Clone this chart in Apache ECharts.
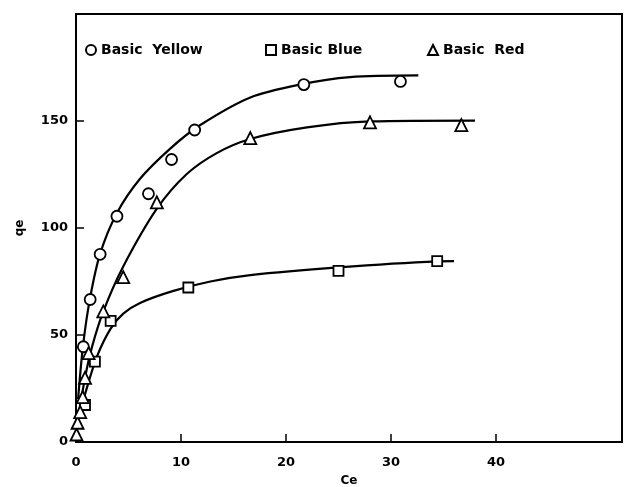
<!DOCTYPE html>
<html>
<head>
<meta charset="utf-8">
<script src="https://cdn.jsdelivr.net/npm/echarts@6/dist/echarts.min.js"></script>
<style>html,body{margin:0;padding:0;background:#fff}#c{width:626px;height:487px}</style>
</head>
<body>
<div id="c"></div>
<script>
// Measured points (Ce, qe)
var yellowPts = [[0.7,44.5],[1.35,66.6],[2.3,87.7],[3.9,105.5],[6.9,116],[9.1,132],[11.3,145.8],[21.7,167],[30.9,168.5]];
var bluePts = [[0.86,17.3],[1.8,37.6],[3.3,56.6],[10.7,72.2],[25,80],[34.4,84.5]];
var redPts = [[0.05,3.5],[0.15,9],[0.4,14],[0.64,21],[0.86,30],[1.2,41.5],[2.6,61],[4.5,77],[7.7,112],[16.6,142],[28,149.4],[36.7,148.1]];
// Fitted curves
var yellowCurve = [[0.2,20],[0.67,45],[1.33,67],[2.3,88],[3.9,107],[6.1,123],[8.95,137],[11.8,148],[16.6,161],[21.3,167],[26.1,170.5],[32.6,171.3]];
var blueCurve = [[0.2,10],[0.9,23],[2.0,40],[3.3,53],[4.5,60],[6.1,65],[9.2,70.5],[12.8,75],[16.6,78],[25,81.6],[34.4,84.4],[36,84.5]];
var redCurve = [[0.15,10],[0.9,31],[1.5,44],[2.6,61],[4.5,82],[7.7,109],[10.5,125],[13.4,135],[16.6,141.6],[22,147],[28,149.8],[38,150.2]];
var xTicks = [0,10,20,30,40];
var yTicks = [0,50,100,150];
var names = ['Basic  Yellow','Basic Blue','Basic  Red'];

var font = 'DejaVu Sans';
var chart = echarts.init(document.getElementById('c'));
function scat(name, data, sym){
  return {type:'scatter', name:name, data:data, symbol:sym, symbolSize: sym==='triangle'?12:(sym==='rect'?10:11),
    itemStyle:{color:'#fff', borderColor:'#000', borderWidth:1.8, opacity:1}, z:3};
}
function curve(data){
  return {type:'line', data:data, smooth:0.3, showSymbol:false, symbol:'none',
    lineStyle:{color:'#000', width:2.2}, z:2, silent:true};
}
function leg(name, left){
  return {data:[name], left:left, top:38, itemWidth:10, itemHeight:10, itemGap:5,
    textStyle:{fontFamily:font, fontWeight:'bold', fontSize:14, color:'#000'}, selectedMode:false};
}
chart.setOption({
  animation:false,
  backgroundColor:'#fff',
  grid:{left:76, top:14, right:4, bottom:45, show:true, borderColor:'#000', borderWidth:2,
    containLabel:false, outerBoundsMode:'none'},
  legend:[leg(names[0],80), leg(names[1],260), leg(names[2],422)],
  xAxis:{type:'value', min:0, max:52, interval:10,
    name:'Ce', nameLocation:'middle', nameGap:33,
    nameTextStyle:{fontFamily:font, fontWeight:'bold', fontSize:12, color:'#000'},
    axisLine:{lineStyle:{color:'#000', width:2}},
    axisTick:{inside:true, length:8, lineStyle:{color:'#000', width:1.5}, customValues:xTicks.slice(1)},
    axisLabel:{customValues:xTicks, margin:14, fontFamily:font, fontWeight:'bold', fontSize:13, color:'#000'},
    splitLine:{show:false}},
  yAxis:{type:'value', min:0, max:200, interval:50,
    name:'qe', nameLocation:'middle', nameGap:50, nameRotate:90,
    nameTextStyle:{fontFamily:font, fontWeight:'bold', fontSize:12, color:'#000'},
    axisLine:{lineStyle:{color:'#000', width:2}},
    axisTick:{inside:true, length:8, lineStyle:{color:'#000', width:1.5}, customValues:yTicks.slice(1)},
    axisLabel:{customValues:yTicks, margin:8, fontFamily:font, fontWeight:'bold', fontSize:13, color:'#000'},
    splitLine:{show:false}},
  series:[
    curve(yellowCurve), curve(blueCurve), curve(redCurve),
    scat(names[0], yellowPts, 'circle'),
    scat(names[1], bluePts, 'rect'),
    scat(names[2], redPts, 'triangle')
  ]
});
</script>
</body>
</html>
